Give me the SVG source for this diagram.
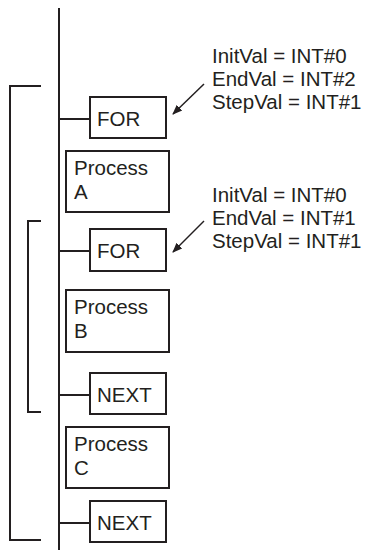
<svg xmlns="http://www.w3.org/2000/svg" width="366" height="550" viewBox="0 0 366 550">
<defs>
<style>
.ln{fill:none;stroke:#231f20;stroke-width:2}
.bx{fill:#fff;stroke:#231f20;stroke-width:2}
.t{font-family:"Liberation Sans",Arial,sans-serif;font-size:20.5px;fill:#231f20}
</style>
<marker id="ah" viewBox="0 0 10 10" refX="9" refY="5" markerWidth="10" markerHeight="10" markerUnits="userSpaceOnUse" orient="auto">
<path d="M0,1 L10,5 L0,9 Z" fill="#231f20"/>
</marker>
</defs>
<rect width="366" height="550" fill="#fff"/>
<g id="connectors">
<line class="ln" x1="59" y1="8" x2="59" y2="550"/>
<path class="ln" d="M41,86 H10 V540 H41"/>
<path class="ln" d="M41,221 H28 V412 H41"/>
<line class="ln" x1="59" y1="119" x2="90" y2="119"/>
<line class="ln" x1="59" y1="251" x2="90" y2="251"/>
<line class="ln" x1="59" y1="395" x2="90" y2="395"/>
<line class="ln" x1="59" y1="523" x2="90" y2="523"/>
<line x1="204" y1="84" x2="173" y2="114" stroke="#231f20" stroke-width="1.5" marker-end="url(#ah)"/>
<line x1="204" y1="221" x2="173" y2="252" stroke="#231f20" stroke-width="1.5" marker-end="url(#ah)"/>
</g>
<g id="for1"><rect class="bx" x="90" y="97" width="76" height="41"/><text class="t" x="97" y="126">FOR</text></g>
<g id="procA"><rect class="bx" x="66" y="151" width="103" height="61"/><text class="t" x="74" y="175">Process</text><text class="t" x="74" y="199">A</text></g>
<g id="for2"><rect class="bx" x="90" y="229" width="76" height="42"/><text class="t" x="97" y="258">FOR</text></g>
<g id="procB"><rect class="bx" x="66" y="290" width="103" height="62"/><text class="t" x="74" y="314">Process</text><text class="t" x="74" y="338">B</text></g>
<g id="next1"><rect class="bx" x="90" y="373" width="76" height="41"/><text class="t" x="97" y="402">NEXT</text></g>
<g id="procC"><rect class="bx" x="66" y="427" width="103" height="61"/><text class="t" x="74" y="451">Process</text><text class="t" x="74" y="475">C</text></g>
<g id="next2"><rect class="bx" x="90" y="501" width="76" height="41"/><text class="t" x="97" y="530">NEXT</text></g>
<g id="label1"><text class="t" x="212" y="63">InitVal = INT#0</text><text class="t" x="212" y="86">EndVal = INT#2</text><text class="t" x="212" y="109">StepVal = INT#1</text></g>
<g id="label2"><text class="t" x="212" y="202">InitVal = INT#0</text><text class="t" x="212" y="225">EndVal = INT#1</text><text class="t" x="212" y="248">StepVal = INT#1</text></g>
</svg>
